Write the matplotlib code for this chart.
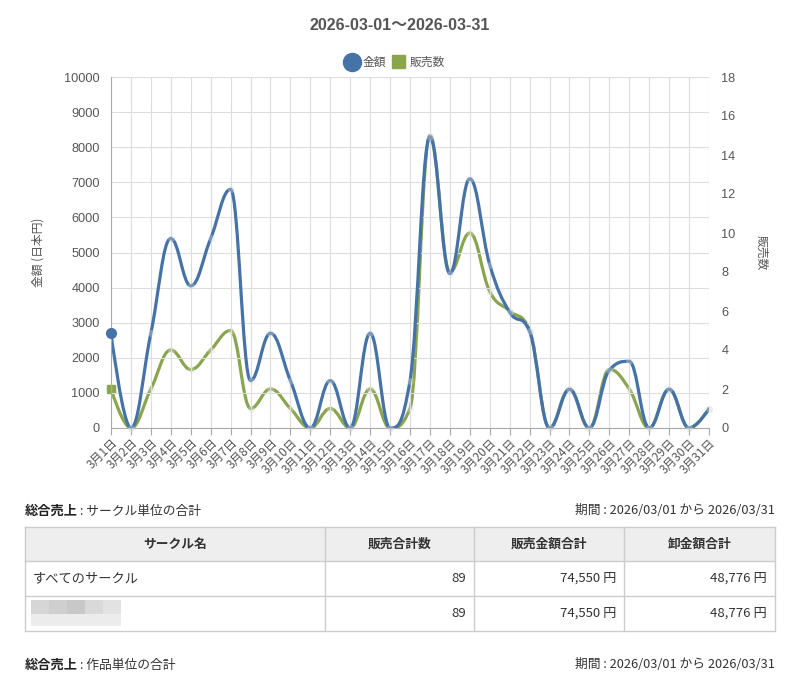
import numpy as np
import matplotlib
matplotlib.use("Agg")
import matplotlib.pyplot as plt
from matplotlib.path import Path
from matplotlib.patches import PathPatch, Rectangle

plt.rcParams['font.family'] = ['Liberation Sans', 'Noto Sans CJK JP', 'DejaVu Sans']

# data
days = list(range(1, 32))
day_labels = ["3月%d日" % d for d in days]
amount = [2700, 0, 2700, 5400, 4050, 5400, 6800, 1350, 2700, 1350, 0, 1350, 0, 2700, 0, 1350,
          8300, 4400, 7100, 4650, 3300, 2750, 0, 1100, 0, 1650, 1900, 0, 1100, 0, 550]
sales = [2, 0, 2, 4, 3, 4, 5, 1, 2, 1, 0, 1, 0, 2, 0, 1,
         15, 8, 10, 7, 6, 5, 0, 2, 0, 3, 2, 0, 2, 0, 1]

table_cols = ["サークル名", "販売合計数", "販売金額合計", "卸金額合計"]
table_rows = [["すべてのサークル", "89", "74,550 円", "48,776 円"],
              ["", "89", "74,550 円", "48,776 円"]]
period_text = "期間 : 2026/03/01 から 2026/03/31"

BLUE = '#4572A7'
GREEN = '#89A54E'
W, H = 807, 676

fig = plt.figure(figsize=(W / 100, H / 100), dpi=100)

# pixel-space canvas for the page parts
bg = fig.add_axes([0, 0, 1, 1])
bg.set_xlim(0, W)
bg.set_ylim(H, 0)
bg.axis('off')

# plot area in pixels
L, R, T, B = 111, 709, 77, 428
ax = fig.add_axes([L / W, (H - B) / H, (R - L) / W, (B - T) / H])
ax2 = ax.twinx()
ax.set_zorder(ax2.get_zorder() + 1)
ax.patch.set_visible(False)


def spline_path(xs, ys, sx, sy):
    # highcharts style spline, computed in pixel units
    px = np.array(xs, float) * sx
    py = np.array(ys, float) * sy
    n = len(px)
    lc = [(px[i], py[i]) for i in range(n)]
    rc = [(px[i], py[i]) for i in range(n)]
    sm = 1.5
    for i in range(1, n - 1):
        lx = (sm * px[i] + px[i - 1]) / (sm + 1)
        ly = (sm * py[i] + py[i - 1]) / (sm + 1)
        rx = (sm * px[i] + px[i + 1]) / (sm + 1)
        ry = (sm * py[i] + py[i + 1]) / (sm + 1)
        corr = 0
        if rx != lx:
            corr = (ry - ly) * (rx - px[i]) / (rx - lx) + py[i] - ry
        ly += corr
        ry += corr
        if ly > py[i - 1] and ly > py[i]:
            ly = max(py[i - 1], py[i]); ry = 2 * py[i] - ly
        elif ly < py[i - 1] and ly < py[i]:
            ly = min(py[i - 1], py[i]); ry = 2 * py[i] - ly
        if ry > py[i + 1] and ry > py[i]:
            ry = max(py[i + 1], py[i]); ly = 2 * py[i] - ry
        elif ry < py[i + 1] and ry < py[i]:
            ry = min(py[i + 1], py[i]); ly = 2 * py[i] - ry
        lc[i] = (lx, ly)
        rc[i] = (rx, ry)
    verts = [(px[0], py[0])]
    codes = [Path.MOVETO]
    for i in range(1, n):
        verts += [rc[i - 1], lc[i], (px[i], py[i])]
        codes += [Path.CURVE4] * 3
    verts = [(x / sx, y / sy) for x, y in verts]
    return Path(verts, codes)


sx = (R - L) / 30.0
ax.set_xlim(1, 31)
ax.set_ylim(0, 10000)
ax2.set_ylim(0, 18)

ax2.add_patch(PathPatch(spline_path(days, sales, sx, (B - T) / 18.0),
                        fc='none', ec=GREEN, lw=2.3, capstyle='round', joinstyle='round'))
ax.add_patch(PathPatch(spline_path(days, amount, sx, (B - T) / 10000.0),
                       fc='none', ec=BLUE, lw=2.3, capstyle='round', joinstyle='round'))

# faint point markers
ax2.plot(days[1:], sales[1:], 'o', ms=5, mfc='#dddddd', mec='none', alpha=0.35, clip_on=False)
ax.plot(days[1:], amount[1:], 'o', ms=5, mfc='#dddddd', mec='none', alpha=0.35, clip_on=False, zorder=5)
ax2.plot(days[:1], sales[:1], 's', ms=6, color=GREEN, clip_on=False)
ax.plot(days[:1], amount[:1], 'o', ms=7, color=BLUE, clip_on=False, zorder=6)

# grid and axes
ax.set_yticks(np.arange(0, 10001, 1000))
ax.set_xticks(days)
ax.set_xticklabels(day_labels, rotation=45, ha='right', va='top', rotation_mode='anchor',
                   family=['Noto Sans CJK JP'])
ax.grid(True, color='#dddddd', lw=0.8)
ax.set_axisbelow(True)
ax2.set_yticks(np.arange(0, 19, 2))
for a in (ax, ax2):
    for s in a.spines.values():
        s.set_visible(False)
ax.spines['left'].set_visible(True)
ax.spines['bottom'].set_visible(True)
ax.spines['left'].set_color('#aaaaaa')
ax.spines['bottom'].set_color('#aaaaaa')
ax.tick_params(axis='y', length=0, pad=8, labelsize=9.2, labelcolor='#555555')
ax.tick_params(axis='x', length=5, color='#aaaaaa', pad=1, labelsize=8.6, labelcolor='#555555')
ax2.tick_params(axis='y', length=0, pad=9, labelsize=9.2, labelcolor='#555555')
ax.set_ylabel("金額 (日本円)", family=['Noto Sans CJK JP'], fontsize=8.5, color='#555555', labelpad=14)
ax2.set_ylabel("販売数", family=['Noto Sans CJK JP'], fontsize=8.5, color='#555555',
               rotation=270, labelpad=14, va='bottom')

# title and legend
bg.text(400, 25, "2026-03-01～2026-03-31", ha='center', va='center', fontsize=11.5,
        fontweight='bold', color='#555555', family=['Liberation Sans', 'Noto Sans CJK JP'])
bg.plot([352], [62], 'o', ms=13, color=BLUE)
bg.text(363, 62, "金額", ha='left', va='center', fontsize=8.5, color='#555555', family=['Noto Sans CJK JP'])
bg.add_patch(Rectangle((392, 55), 13, 13, color=GREEN))
bg.text(410, 62, "販売数", ha='left', va='center', fontsize=8.5, color='#555555', family=['Noto Sans CJK JP'])

# lower page part: section headers and table
jp = ['Noto Sans CJK JP']
for y0, sub in ((511, ": サークル単位の合計"), (665, ": 作品単位の合計")):
    t = bg.text(25, y0, "総合売上", ha='left', va='center', fontsize=9.5, fontweight='bold',
                color='#222222', family=jp)
    fig.canvas.draw()
    bb = t.get_window_extent()
    x_end = bb.x1 * W / fig.bbox.width
    bg.text(x_end + 2, y0, sub, ha='left', va='center', fontsize=9.2, color='#333333', family=jp)
    bg.text(775, y0, period_text, ha='right', va='center', fontsize=9.2, color='#333333', family=jp)

col_x = [25, 325, 474, 624, 775]
row_y = [527, 561, 596, 631]
bg.add_patch(Rectangle((25, 527), 750, 34, fc='#eeeeee', ec='none'))
for yy in row_y:
    bg.plot([25, 775], [yy, yy], color='#cccccc', lw=1)
for xx in col_x:
    bg.plot([xx, xx], [527, 631], color='#cccccc', lw=1)
for j, c in enumerate(table_cols):
    bg.text((col_x[j] + col_x[j + 1]) / 2, 544, c, ha='center', va='center', fontsize=9.2,
            fontweight='bold', color='#333333', family=jp)
for i, row in enumerate(table_rows):
    yc = (row_y[i + 1] + row_y[i + 2]) / 2
    for j, v in enumerate(row):
        if j == 0:
            bg.text(33, yc, v, ha='left', va='center', fontsize=9.5, color='#333333', family=jp)
        else:
            bg.text(col_x[j + 1] - 8, yc, v, ha='right', va='center', fontsize=9.5,
                    color='#333333', family=jp)

# blurred circle name
for k, g in enumerate(['#d6d6d6', '#cfcfcf', '#c8c8c8', '#d9d9d9', '#e2e2e2']):
    bg.add_patch(Rectangle((31 + k * 18, 600), 18, 14, fc=g, ec='none'))
    bg.add_patch(Rectangle((31 + k * 18, 614), 18, 12, fc='#ececec', ec='none'))

fig.savefig("out.png", dpi=100)
